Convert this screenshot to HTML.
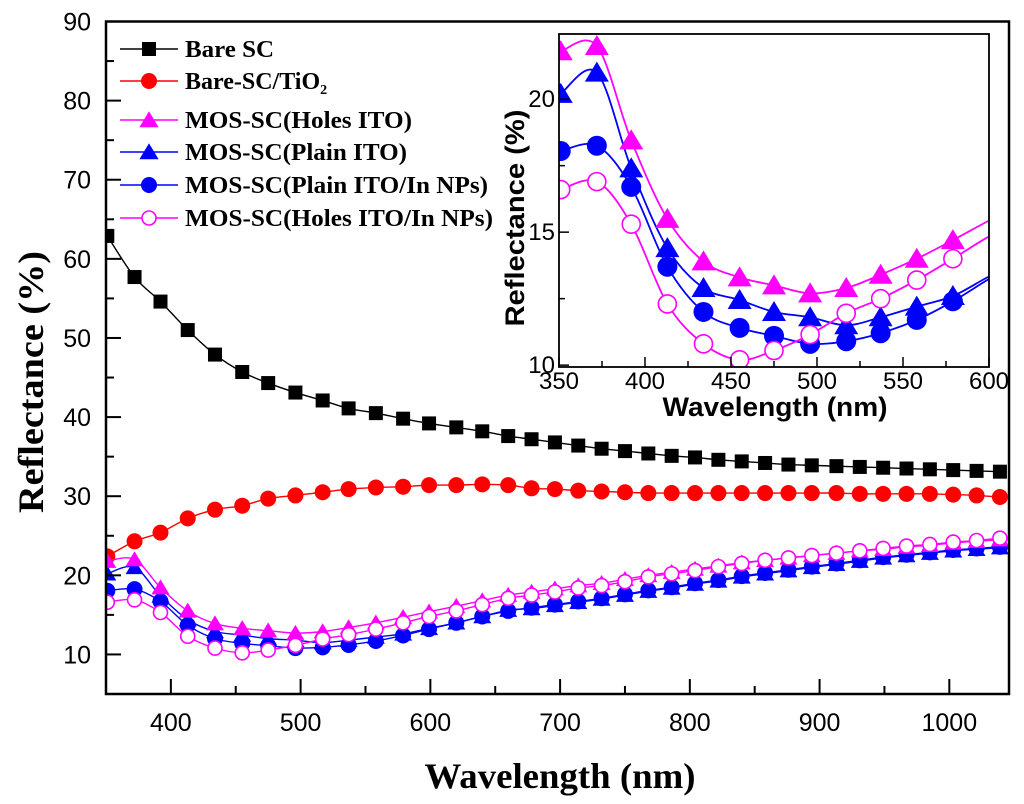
<!DOCTYPE html>
<html><head><meta charset="utf-8"><style>
html,body{margin:0;padding:0;background:#fff;}
svg{display:block;}
.tk{font-family:"Liberation Sans",Arial,sans-serif;font-size:25px;fill:#000;}
.itk{font-family:"Liberation Sans",Arial,sans-serif;font-size:24px;fill:#000;}
.lg{font-family:"Liberation Serif",serif;font-weight:bold;font-size:24px;fill:#000;}
</style></head><body>
<svg id="chart" width="1024" height="804" viewBox="0 0 1024 804" xmlns="http://www.w3.org/2000/svg">
<g id="main"></g>
<g id="inset"></g>
</svg>
<script>
const wavelengths = [351,372,392,413,434,455,475,496,517,537,558,579,599,620,640,660,678,696,714,732,750,768,786,804,822,840,858,876,894,913,931,949,967,985,1003,1021,1039];
const bareSC = [62.9,57.7,54.6,51.0,47.9,45.7,44.3,43.1,42.1,41.1,40.5,39.8,39.2,38.7,38.2,37.6,37.2,36.8,36.4,36.0,35.7,35.4,35.1,34.9,34.6,34.4,34.2,34.0,33.9,33.8,33.7,33.6,33.5,33.4,33.3,33.2,33.1];
const bareTiO2 = [22.4,24.3,25.4,27.2,28.3,28.8,29.7,30.1,30.5,30.9,31.1,31.2,31.4,31.4,31.5,31.4,31.0,30.9,30.7,30.6,30.5,30.4,30.4,30.4,30.4,30.4,30.4,30.4,30.4,30.4,30.3,30.3,30.3,30.3,30.2,30.1,29.9];
const holesITO = [21.8,22.0,18.45,15.5,13.9,13.3,13.0,12.7,12.9,13.4,14.0,14.7,15.4,16.1,16.8,17.5,17.9,18.3,18.7,19.0,19.5,20.0,20.4,20.8,21.2,21.6,21.9,22.2,22.5,22.8,23.1,23.3,23.6,23.8,24.1,24.3,24.5];
const plainITO = [20.2,21.0,17.4,14.4,12.9,12.45,12.0,11.8,11.5,11.8,12.2,12.6,13.3,14.0,14.8,15.6,15.8,16.2,16.6,17.0,17.5,18.0,18.4,18.9,19.3,19.8,20.2,20.6,21.0,21.4,21.8,22.2,22.5,22.8,23.1,23.3,23.5];
const plainITOInNPs = [18.05,18.25,16.7,13.7,12.0,11.4,11.1,10.8,10.9,11.2,11.7,12.4,13.2,14.0,14.8,15.5,15.9,16.3,16.7,17.1,17.6,18.1,18.5,19.0,19.4,19.9,20.3,20.7,21.1,21.5,21.9,22.3,22.6,22.9,23.2,23.4,23.6];
const holesITOInNPs = [16.6,16.9,15.3,12.3,10.8,10.2,10.55,11.15,11.95,12.5,13.2,14.0,14.8,15.5,16.3,17.1,17.5,17.9,18.4,18.7,19.2,19.8,20.2,20.6,21.1,21.5,21.9,22.2,22.5,22.8,23.1,23.4,23.7,23.9,24.2,24.4,24.7];
const seriesNames = ["Bare SC","Bare-SC/TiO2","MOS-SC(Holes ITO)","MOS-SC(Plain ITO)","MOS-SC(Plain ITO/In NPs)","MOS-SC(Holes ITO/In NPs)"];
const mainYTicks = [10,20,30,40,50,60,70,80,90];
const mainXTicks = [400,500,600,700,800,900,1000];
const insetYTicks = [10,15,20];
const insetXTicks = [350,400,450,500,550,600];

const NS="http://www.w3.org/2000/svg";
function mk(parent,tag,attrs){const e=document.createElementNS(NS,tag);for(const k in attrs)e.setAttribute(k,attrs[k]);parent.appendChild(e);return e;}
function smooth(pts){if(pts.length<2)return"";let d="M"+pts[0][0]+","+pts[0][1];for(let i=0;i<pts.length-1;i++){const p0=pts[Math.max(i-1,0)],p1=pts[i],p2=pts[i+1],p3=pts[Math.min(i+2,pts.length-1)];const c1x=p1[0]+(p2[0]-p0[0])/6,c1y=p1[1]+(p2[1]-p0[1])/6,c2x=p2[0]-(p3[0]-p1[0])/6,c2y=p2[1]-(p3[1]-p1[1])/6;d+=" C"+c1x+","+c1y+" "+c2x+","+c2y+" "+p2[0]+","+p2[1];}return d;}
function marker(g,type,x,y,s,color){let e;
 if(type==="square"){e=mk(g,"rect",{x:x-s/2,y:y-s/2,width:s,height:s,fill:color});}
 else if(type==="circle"){e=mk(g,"circle",{cx:x,cy:y,r:s/2,fill:color});}
 else if(type==="ocircle"){e=mk(g,"circle",{cx:x,cy:y,r:s/2-1,fill:"#fff",stroke:color,"stroke-width":1.6});}
 else {e=mk(g,"polygon",{points:(x)+","+(y-s*0.55)+" "+(x-s*0.6)+","+(y+s*0.45)+" "+(x+s*0.6)+","+(y+s*0.45),fill:color});}
 return e;}
const styles=[["square","#000"],["circle","#f00"],["tri","#f0f"],["tri","#00f"],["circle","#00f"],["ocircle","#f0f"]];
const allSeries=[bareSC,bareTiO2,holesITO,plainITO,plainITOInNPs,holesITOInNPs];
const drawOrder=[0,1,3,4,2,5];

// ---------- MAIN ----------
const main=document.getElementById("main");
const mL=106,mR=1009,mT=21.5,mB=694;
const mx=v=>mL+(v-350)*(mR-mL)/(1046-350);
const my=v=>mB-(v-5)*(mB-mT)/(90-5);
mk(main,"defs",{}).innerHTML='<clipPath id="mclip"><rect x="'+mL+'" y="'+mT+'" width="'+(mR-mL)+'" height="'+(mB-mT)+'"/></clipPath>';
const mg=mk(main,"g",{"clip-path":"url(#mclip)"});


drawOrder.forEach(si=>{const data=allSeries[si];const [t,c]=styles[si];
 const g=mk(mg,"g",{});
 
 
 const pts=wavelengths.map((w,i)=>[mx(w),my(data[i])]);
 mk(g,"path",{d:smooth(pts),fill:"none",stroke:c,"stroke-width":1.4});
 pts.forEach(p=>{const m=marker(g,t,p[0],p[1],t==="square"?14:(t==="tri"?15:16),c);
  
  });
});
const mf=mk(main,"rect",{x:mL,y:mT,width:mR-mL,height:mB-mT,fill:"none",stroke:"#000","stroke-width":2.5});


for(let v=10;v<=90;v+=5){const y=my(v);const len=v%10===0?15:8;mk(main,"line",{x1:mL,x2:mL+len,y1:y,y2:y,stroke:"#000","stroke-width":2});}
mainYTicks.forEach(v=>{const t=mk(main,"text",{x:91,y:my(v)+9,"text-anchor":"end",class:"tk"});t.textContent=v;
 
 });
for(let v=400;v<=1000;v+=50){const x=mx(v);const len=v%100===0?15:8;mk(main,"line",{x1:x,x2:x,y1:mB,y2:mB-len,stroke:"#000","stroke-width":2});}
mainXTicks.forEach(v=>{const t=mk(main,"text",{x:mx(v),y:731,"text-anchor":"middle",class:"tk"});t.textContent=v;
 
 });
const yt=mk(main,"text",{x:0,y:0,transform:"translate(43,382) rotate(-90)","text-anchor":"middle","font-family":"Liberation Serif,serif","font-weight":"bold","font-size":"36px",textLength:262,lengthAdjust:"spacingAndGlyphs"});
yt.textContent="Reflectance (%)";


const xt=mk(main,"text",{x:560,y:788,"text-anchor":"middle","font-family":"Liberation Serif,serif","font-weight":"bold","font-size":"36px",textLength:271,lengthAdjust:"spacingAndGlyphs"});
xt.textContent="Wavelength (nm)";



// legend
const lgY=[49,81,120,152,185,218];
const lgW=[89,0,227,222,303,308];
const lg=mk(main,"g",{});


seriesNames.forEach((n,i)=>{const [t,c]=styles[i];const y=lgY[i];
 const e=mk(lg,"g",{});
 
 
 mk(e,"line",{x1:120,x2:178,y1:y,y2:y,stroke:c,"stroke-width":1.4});
 marker(e,t,149,y,t==="square"?14:16,c);
 const tx=mk(e,"text",{x:185,y:y+8,class:"lg"});
 if(i===1){tx.innerHTML='Bare-SC/TiO<tspan font-size="14px" dy="5">2</tspan>';}
 else {tx.setAttribute("textLength",lgW[i]);tx.setAttribute("lengthAdjust","spacingAndGlyphs");tx.textContent=n;}
});

// ---------- INSET ----------
const inset=document.getElementById("inset");
const iL=559,iR=989,iT=34,iB=367;
const ix=v=>iL+(v-350)*(iR-iL)/250;
const iy=v=>iB-(v-9.93)*(iB-iT)/(22.45-9.93);
mk(inset,"rect",{x:iL,y:iT,width:iR-iL,height:iB-iT,fill:"#fff"});
mk(inset,"defs",{}).innerHTML='<clipPath id="iclip"><rect x="'+iL+'" y="'+iT+'" width="'+(iR-iL)+'" height="'+(iB-iT)+'"/></clipPath>';
const ig=mk(inset,"g",{"clip-path":"url(#iclip)"});


[3,4,2,5].forEach(si=>{const data=allSeries[si];const [t,c]=styles[si];
 const g=mk(ig,"g",{});
 
 
 const pts=wavelengths.map((w,i)=>[ix(w),iy(data[i])]).filter((p,i)=>wavelengths[i]<=640);
 mk(g,"path",{d:smooth(pts),fill:"none",stroke:c,"stroke-width":1.8});
 wavelengths.forEach((w,i)=>{if(w>590)return;const m=marker(g,t,ix(w),iy(data[i]),20,c);
  
  });
});
const inf=mk(inset,"rect",{x:iL,y:iT,width:iR-iL,height:iB-iT,fill:"none",stroke:"#000","stroke-width":1.8});


[10,12.5,15,17.5,20].forEach(v=>{const y=iy(v);const len=(v%5===0)?10:6;mk(inset,"line",{x1:iL,x2:iL+len,y1:y,y2:y,stroke:"#000","stroke-width":1.5});});
insetYTicks.forEach(v=>{const t=mk(inset,"text",{x:555,y:iy(v)+8,"text-anchor":"end",class:"itk"});t.textContent=v;
 
 });
for(let v=350;v<=600;v+=25){const x=ix(v);const len=v%50===0?10:6;mk(inset,"line",{x1:x,x2:x,y1:iB,y2:iB-len,stroke:"#000","stroke-width":1.5});}
insetXTicks.forEach(v=>{const t=mk(inset,"text",{x:ix(v),y:389,"text-anchor":"middle",class:"itk"});t.textContent=v;
 
 });
const iyt=mk(inset,"text",{x:0,y:0,transform:"translate(524,218) rotate(-90)","text-anchor":"middle","font-family":"Liberation Sans,sans-serif","font-weight":"bold","font-size":"27px",textLength:217,lengthAdjust:"spacingAndGlyphs"});
iyt.textContent="Reflectance (%)";


const ixt=mk(inset,"text",{x:775,y:416,"text-anchor":"middle","font-family":"Liberation Sans,sans-serif","font-weight":"bold","font-size":"27px",textLength:225,lengthAdjust:"spacingAndGlyphs"});
ixt.textContent="Wavelength (nm)";


</script>
</body></html>
